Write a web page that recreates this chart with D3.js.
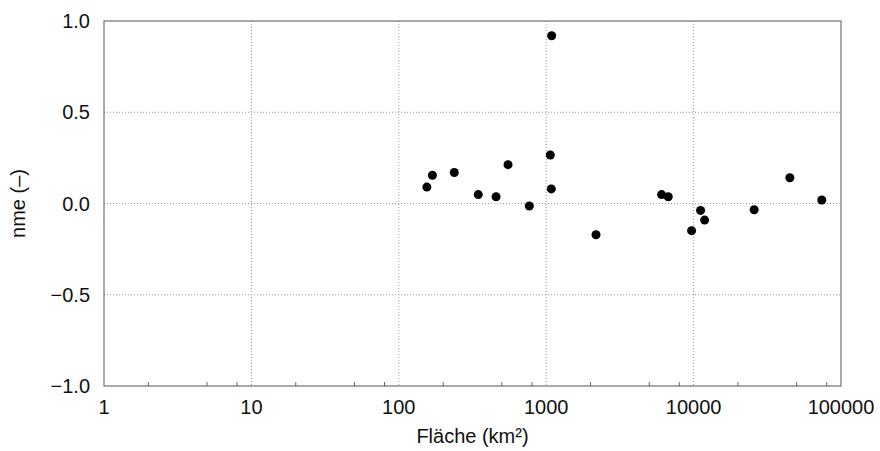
<!DOCTYPE html>
<html>
<head>
<meta charset="utf-8">
<script src="https://cdn.jsdelivr.net/npm/d3@7"></script>
<style>
  body { margin: 0; background: #fff; }
  text { font-family: "Liberation Sans", Arial, sans-serif; fill: #111; }
</style>
</head>
<body>
<script>
// catchment area (km²) and nme
var flaeche = [155, 169, 238, 346, 457, 551, 768, 1066, 1083, 1089, 2177,
               6068, 6730, 9690, 11150, 11880, 25760, 44980, 74100];
var nme = [0.090, 0.155, 0.170, 0.049, 0.037, 0.213, -0.014, 0.266, 0.080, 0.919, -0.171,
           0.049, 0.037, -0.149, -0.038, -0.091, -0.034, 0.141, 0.019];
var xTicks = [1, 10, 100, 1000, 10000, 100000];
var yTicks = [-1.0, -0.5, 0.0, 0.5, 1.0];

var data = flaeche.map(function(d, i){ return {x: d, y: nme[i]}; });

var margin = {left: 104, right: 39, top: 21, bottom: 65};
var width = 880 - margin.left - margin.right;
var height = 451 - margin.top - margin.bottom;

var x = d3.scaleLog().domain([1, 100000]).range([0, width]);
var y = d3.scaleLinear().domain([-1, 1]).range([height, 0]);

var svg = d3.select("body").append("svg").attr("width", 880).attr("height", 451);
var g = svg.append("g").attr("transform", "translate(" + margin.left + "," + margin.top + ")");

// grid
g.selectAll(".vgrid").data(xTicks.slice(1, -1)).enter().append("line")
  .attr("x1", function(d){ return x(d); }).attr("x2", function(d){ return x(d); })
  .attr("y1", 0).attr("y2", height)
  .attr("stroke", "#999").attr("stroke-width", 1).attr("stroke-dasharray", "1,2");
g.selectAll(".hgrid").data(yTicks.slice(1, -1)).enter().append("line")
  .attr("y1", function(d){ return y(d); }).attr("y2", function(d){ return y(d); })
  .attr("x1", 0).attr("x2", width)
  .attr("stroke", "#999").attr("stroke-width", 1).attr("stroke-dasharray", "1,2");

// minor ticks at 2,5,8 per decade
var minor = [];
xTicks.slice(0, -1).forEach(function(d){ [2, 5, 8].forEach(function(m){ minor.push(d * m); }); });
g.selectAll(".minor").data(minor).enter().append("line")
  .attr("x1", function(d){ return x(d); }).attr("x2", function(d){ return x(d); })
  .attr("y1", height).attr("y2", height - 4)
  .attr("stroke", "#666");

// frame
g.append("rect").attr("x", 0).attr("y", 0).attr("width", width).attr("height", height)
  .attr("fill", "none").attr("stroke", "#555").attr("stroke-width", 1);

// tick labels
g.selectAll(".xl").data(xTicks).enter().append("text")
  .attr("x", function(d){ return x(d); }).attr("y", height + 27.5)
  .attr("text-anchor", "middle").style("font-size", "20px")
  .text(function(d){ return d; });
g.selectAll(".yl").data(yTicks).enter().append("text")
  .attr("x", -14).attr("y", function(d){ return y(d) + 7; })
  .attr("text-anchor", "end").style("font-size", "20px")
  .text(function(d){ return d.toFixed(1).replace("-", "\u2212"); });

// points
g.selectAll("circle").data(data).enter().append("circle")
  .attr("cx", function(d){ return x(d.x); })
  .attr("cy", function(d){ return y(d.y); })
  .attr("r", 4.5).attr("fill", "#000");

// axis titles
g.append("text").attr("x", width / 2).attr("y", height + 57)
  .attr("text-anchor", "middle").style("font-size", "20px")
  .text("Fläche (km²)");
g.append("text").attr("transform", "rotate(-90)")
  .attr("x", -height / 2).attr("y", -79)
  .attr("text-anchor", "middle").style("font-size", "20px")
  .text("nme (–)");
</script>
</body>
</html>
